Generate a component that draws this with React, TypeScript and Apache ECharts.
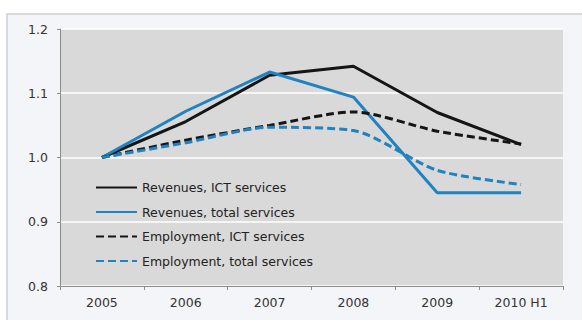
import React, { useEffect, useRef } from "react";
import * as echarts from "echarts";

const categories = ["2005", "2006", "2007", "2008", "2009", "2010 H1"];
const revenuesICT = [1.0, 1.056, 1.128, 1.142, 1.07, 1.02];
const revenuesTotal = [1.0, 1.072, 1.133, 1.094, 0.945, 0.945];
const employmentICT = [1.0, 1.027, 1.05, 1.071, 1.041, 1.021];
const employmentTotal = [1.0, 1.023, 1.047, 1.042, 0.98, 0.958];
const seriesNames = [
  "Revenues, ICT services",
  "Revenues, total services",
  "Employment, ICT services",
  "Employment, total services",
];

export default function App() {
  const ref = useRef<HTMLDivElement>(null);
  useEffect(() => {
    if (!ref.current) return;
    const chart = echarts.init(ref.current, null, { renderer: "svg" });
    const black = "#151515";
    const blue = "#2182c0";
    const font = "DejaVu Sans, Liberation Sans, sans-serif";
    const mk = (name: string, data: number[], color: string, dashed: boolean) => ({
      name,
      type: "line",
      data,
      symbol: "none",
      smooth: dashed ? 0.25 : false,
      lineStyle: { color, width: 3, type: dashed ? [8, 4] : "solid" },
      itemStyle: { color },
    });
    chart.setOption({
      animation: false,
      backgroundColor: "#ffffff",
      textStyle: { fontFamily: font },
      graphic: [
        {
          type: "rect",
          shape: { x: 7, y: 14, width: 600, height: 340 },
          style: { fill: "#f4f5f9", stroke: "#cdced4", lineWidth: 1.5 },
          z: -10,
          silent: true,
        },
      ],
      grid: {
        left: 60,
        right: 19,
        top: 29,
        bottom: 34,
        show: true,
        backgroundColor: "#d9d9d9",
        borderWidth: 0,
      },
      legend: {
        orient: "vertical",
        left: 90,
        top: 176,
        itemWidth: 41,
        itemHeight: 12,
        itemGap: 11.5,
        lineStyle: { width: 2, opacity: 1 },
        itemStyle: { opacity: 0 },
        textStyle: { fontSize: 12.5, color: "#222", fontFamily: font },
        data: seriesNames,
      },
      xAxis: {
        type: "category",
        data: categories,
        boundaryGap: true,
        axisLine: { lineStyle: { color: "#8c8c8c", width: 1 } },
        axisTick: { show: true, length: 4, lineStyle: { color: "#8c8c8c" } },
        axisLabel: { fontSize: 12.5, color: "#333", margin: 10, fontFamily: font },
      },
      yAxis: {
        type: "value",
        min: 0.8,
        max: 1.2,
        interval: 0.1,
        axisLine: { show: true, lineStyle: { color: "#8c8c8c", width: 1 } },
        axisTick: { show: true, length: 3, lineStyle: { color: "#8c8c8c" } },
        axisLabel: {
          fontSize: 12.5,
          color: "#333",
          margin: 12,
          fontFamily: font,
          formatter: (v: number) => v.toFixed(1),
        },
        splitLine: { show: true, lineStyle: { color: "#ffffff", width: 1.5 } },
      },
      series: [
        mk(seriesNames[0], revenuesICT, black, false),
        mk(seriesNames[1], revenuesTotal, blue, false),
        mk(seriesNames[2], employmentICT, black, true),
        mk(seriesNames[3], employmentTotal, blue, true),
      ],
    });
    return () => chart.dispose();
  }, []);
  return (
    <div
      ref={ref}
      style={{ position: "absolute", left: 0, top: 0, width: 582, height: 320 }}
    />
  );
}
